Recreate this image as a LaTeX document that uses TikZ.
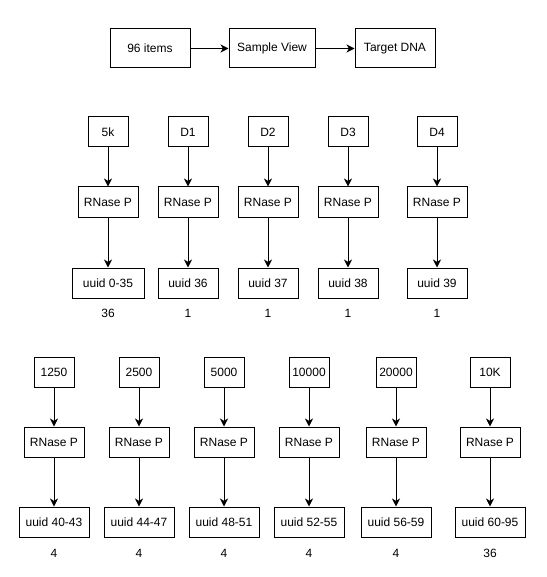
\documentclass[tikz,border=0pt]{standalone}
\usepackage{fontspec}
\setmainfont{Liberation Sans}
\usetikzlibrary{arrows.meta}

\begin{document}
\begin{tikzpicture}[x=0.75pt,y=0.75pt,yscale=-1,xscale=1,
    box/.style={draw,line width=0.75,inner sep=0.75pt,minimum width=45pt,minimum height=22.5pt,font=\fontsize{9}{11}\selectfont},
    tall/.style={minimum height=29.25pt},
    cnt/.style={inner sep=0.75pt,font=\fontsize{9}{11}\selectfont},
    arr/.style={-{Stealth[length=6pt,width=6pt,inset=1.8pt]},line width=0.75}]
        %set diagram size, 546 x 577
        \useasboundingbox (0,0) rectangle (546,577);

        %Shape: Rectangle [top row]
        \node [box,tall,minimum width=60pt] (items) at (150,48.5) {96 items};
        \node [box,tall,minimum width=64.5pt] (view) at (272,48.5) {Sample View};
        \node [box,tall,minimum width=60pt] (dna) at (395,48.5) {Target DNA};
        %Straight Lines
        \draw [arr] (items) -- (view);
        \draw [arr] (view) -- (dna);

        %Shape: Rectangle [second row, sources]
        \node [box,minimum width=30pt] (src1) at (108,132) {5k};
        \node [box,minimum width=30pt] (src2) at (188,132) {D1};
        \node [box,minimum width=30pt] (src3) at (268,132) {D2};
        \node [box,minimum width=30pt] (src4) at (348,132) {D3};
        \node [box,minimum width=30pt] (src5) at (437,132) {D4};
        %Shape: Rectangle [second row, RNase P]
        \node [box] (rnp1) at (108,202) {RNase P};
        \node [box] (rnp2) at (188,202) {RNase P};
        \node [box] (rnp3) at (268,202) {RNase P};
        \node [box] (rnp4) at (348,202) {RNase P};
        \node [box] (rnp5) at (437,202) {RNase P};
        %Shape: Rectangle [second row, uuid]
        \node [box,minimum width=54pt] (uid1) at (108,283) {uuid 0-35};
        \node [box] (uid2) at (188,283) {uuid 36};
        \node [box] (uid3) at (268,283) {uuid 37};
        \node [box] (uid4) at (348,283) {uuid 38};
        \node [box] (uid5) at (437,283) {uuid 39};
        % Text Node
        \node [cnt] (cnt1) at (108,313) {36};
        \node [cnt] (cnt2) at (188,313) {1};
        \node [cnt] (cnt3) at (268,313) {1};
        \node [cnt] (cnt4) at (348,313) {1};
        \node [cnt] (cnt5) at (437,313) {1};
        %Straight Lines
        \draw [arr] (src1) -- (rnp1);
        \draw [arr] (rnp1) -- (uid1);
        \draw [arr] (src2) -- (rnp2);
        \draw [arr] (rnp2) -- (uid2);
        \draw [arr] (src3) -- (rnp3);
        \draw [arr] (rnp3) -- (uid3);
        \draw [arr] (src4) -- (rnp4);
        \draw [arr] (rnp4) -- (uid4);
        \draw [arr] (src5) -- (rnp5);
        \draw [arr] (rnp5) -- (uid5);

        %Shape: Rectangle [third row, sources]
        \node [box,minimum width=30pt] (src6) at (54,372) {1250};
        \node [box,minimum width=30pt] (src7) at (139,372) {2500};
        \node [box,minimum width=30pt] (src8) at (224,372) {5000};
        \node [box,minimum width=30pt] (src9) at (309,372) {10000};
        \node [box,minimum width=30pt] (src10) at (396,372) {20000};
        \node [box,minimum width=30pt] (src11) at (490,372) {10K};
        %Shape: Rectangle [third row, RNase P]
        \node [box] (rnp6) at (54,442) {RNase P};
        \node [box] (rnp7) at (139,442) {RNase P};
        \node [box] (rnp8) at (224,442) {RNase P};
        \node [box] (rnp9) at (309,442) {RNase P};
        \node [box] (rnp10) at (396,442) {RNase P};
        \node [box] (rnp11) at (490,442) {RNase P};
        %Shape: Rectangle [third row, uuid]
        \node [box,minimum width=52.5pt] (uid6) at (54,522) {uuid 40-43};
        \node [box,minimum width=52.5pt] (uid7) at (139,522) {uuid 44-47};
        \node [box,minimum width=52.5pt] (uid8) at (224,522) {uuid 48-51};
        \node [box,minimum width=52.5pt] (uid9) at (309,522) {uuid 52-55};
        \node [box,minimum width=52.5pt] (uid10) at (396,522) {uuid 56-59};
        \node [box,minimum width=52.5pt] (uid11) at (490,522) {uuid 60-95};
        % Text Node
        \node [cnt] (cnt6) at (54,553) {4};
        \node [cnt] (cnt7) at (139,553) {4};
        \node [cnt] (cnt8) at (224,553) {4};
        \node [cnt] (cnt9) at (309,553) {4};
        \node [cnt] (cnt10) at (396,553) {4};
        \node [cnt] (cnt11) at (490,553) {36};
        %Straight Lines
        \draw [arr] (src6) -- (rnp6);
        \draw [arr] (rnp6) -- (uid6);
        \draw [arr] (src7) -- (rnp7);
        \draw [arr] (rnp7) -- (uid7);
        \draw [arr] (src8) -- (rnp8);
        \draw [arr] (rnp8) -- (uid8);
        \draw [arr] (src9) -- (rnp9);
        \draw [arr] (rnp9) -- (uid9);
        \draw [arr] (src10) -- (rnp10);
        \draw [arr] (rnp10) -- (uid10);
        \draw [arr] (src11) -- (rnp11);
        \draw [arr] (rnp11) -- (uid11);

    \end{tikzpicture}
\end{document}
